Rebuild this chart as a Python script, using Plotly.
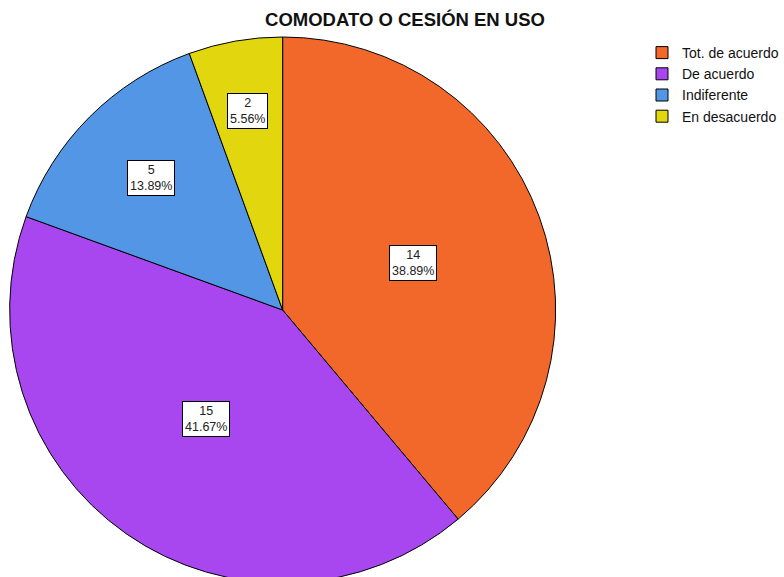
import math
import plotly.graph_objects as go

categories = ["Tot. de acuerdo", "De acuerdo", "Indiferente", "En desacuerdo"]
counts = [14, 15, 5, 2]
percent_labels = ["38.89%", "41.67%", "13.89%", "5.56%"]
colors = ["#F2682B", "#A847F0", "#5496E6", "#E2D60E"]

W = 784
TOP = 37
cx_px, r_px = 283, 273
cy_px = TOP + r_px
H = TOP + 2 * r_px  # the bottom of the pie is cropped by the 577px window
FONT = "Liberation Sans, Arial, sans-serif"

fig = go.Figure()
fig.add_trace(go.Pie(
    labels=categories,
    values=counts,
    marker=dict(colors=colors, line=dict(color="#000000", width=1)),
    sort=False,
    direction="clockwise",
    rotation=0,
    textinfo="none",
    hoverinfo="label+value+percent",
    domain=dict(x=[(cx_px - r_px - 1) / W, (cx_px + r_px + 1) / W], y=[0, 1]),
))

total = sum(counts)
cum = 0
annotations = []
for c, p in zip(counts, percent_labels):
    share = c / total
    mid = (cum + c / 2) / total * 2 * math.pi
    cum += c
    frac = 0.5 + 0.28 * (1 - share / 0.4)
    px = cx_px + frac * r_px * math.sin(mid)
    py = cy_px - frac * r_px * math.cos(mid)
    annotations.append(dict(
        x=px / W, y=1 - (py - TOP) / (H - TOP), xref="paper", yref="paper",
        xanchor="center", yanchor="middle",
        text=f"{c}<br>{p}", showarrow=False,
        font=dict(family=FONT, size=12.5, color="#222"),
        bgcolor="white", bordercolor="black", borderwidth=1, borderpad=2,
        align="center",
    ))

fig.update_layout(
    width=W, height=H,
    margin=dict(l=0, r=0, t=TOP, b=0),
    paper_bgcolor="white", plot_bgcolor="white",
    title=dict(text="<b>COMODATO O CESIÓN EN USO</b>", x=405 / W, xanchor="center",
               y=1 - 20 / H, yanchor="middle", yref="container",
               font=dict(family=FONT, size=18.5, color="#111")),
    legend=dict(x=643 / W, y=1 - (37 - TOP) / (H - TOP), xanchor="left", yanchor="top",
                font=dict(family=FONT, size=14, color="#111"),
                itemwidth=30, tracegroupgap=0, bgcolor="rgba(0,0,0,0)"),
    annotations=annotations,
)

fig.write_html("out.html",
               config={"displayModeBar": False},
               post_script="document.body.style.margin='0';document.body.style.overflow='hidden';")
